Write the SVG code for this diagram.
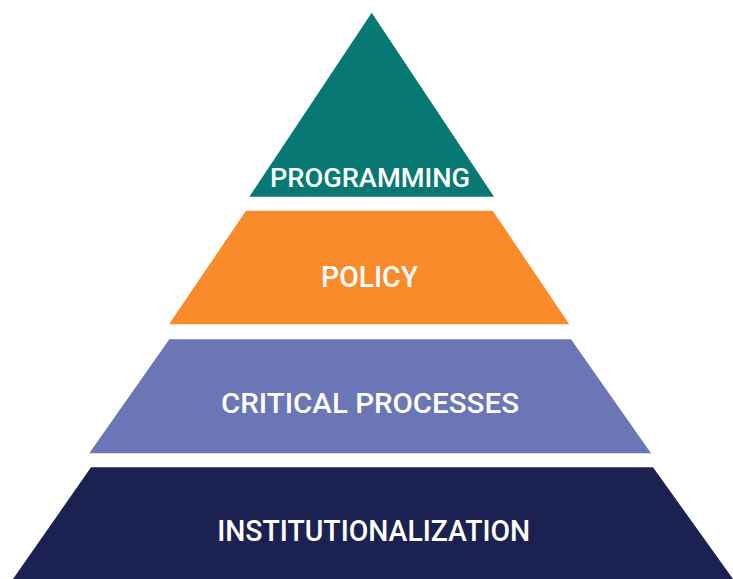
<svg xmlns="http://www.w3.org/2000/svg" width="733" height="579" viewBox="0 0 733 579">
<style>
.lbl{font-family:Roboto,"Liberation Sans",Arial,sans-serif;font-weight:500;fill:#ffffff;text-anchor:middle}
</style>
<rect width="733" height="579" fill="#ffffff"/>
<g id="programming">
<polygon points="371.7,12.7 494,196.7 249.3,196.7" fill="#077873"/>
<text class="lbl" x="370" y="187" font-size="26" textLength="200" lengthAdjust="spacingAndGlyphs">PROGRAMMING</text>
</g>
<g id="policy">
<polygon points="246,210.7 492.7,210.7 569.3,324.3 169,324.3" fill="#F98B2B"/>
<text class="lbl" x="369.5" y="287.3" font-size="29.5" textLength="97" lengthAdjust="spacingAndGlyphs">POLICY</text>
</g>
<g id="critical-processes">
<polygon points="169.3,339.3 571,339.3 651,453.3 89.3,453.3" fill="#6A76B5"/>
<text class="lbl" x="370" y="413" font-size="28.5" textLength="298" lengthAdjust="spacingAndGlyphs">CRITICAL PROCESSES</text>
</g>
<g id="institutionalization">
<polygon points="91,467.3 653,467.3 733,579 13,579" fill="#1B2150"/>
<text class="lbl" x="373.7" y="540.7" font-size="29.5" textLength="313" lengthAdjust="spacingAndGlyphs">INSTITUTIONALIZATION</text>
</g>
<g id="connectors"/>
</svg>
